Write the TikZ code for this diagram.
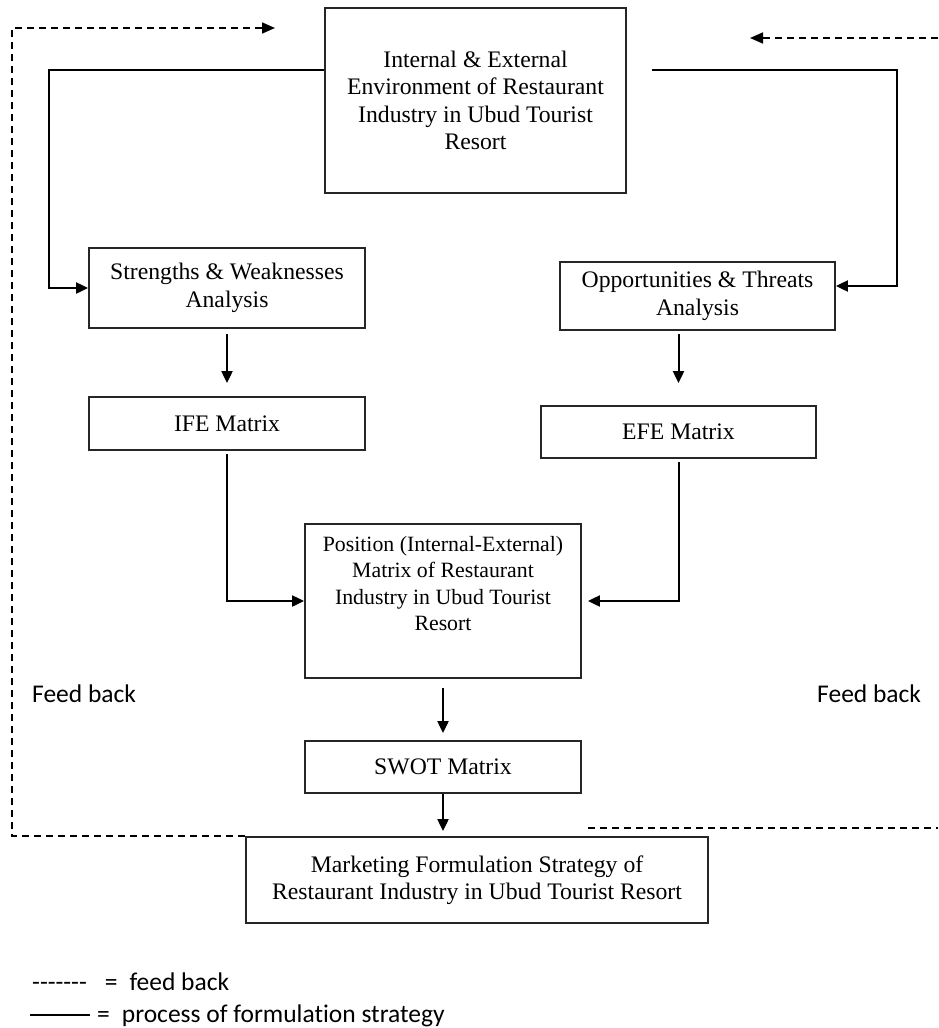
\documentclass[tikz,border=0pt]{standalone}
\usepackage{fontspec}
\setmainfont{Liberation Serif}
\newfontfamily\calfont[Ligatures=NoCommon]{Carlito}
\usetikzlibrary{arrows.meta}
\newcommand{\hy}{\mbox{-}}
\begin{document}
\begin{tikzpicture}[x=1pt,y=-1pt,
  box/.style={draw, line width=1.8pt, draw=black!85, align=center, inner sep=0pt,
    font=\fontsize{23.7}{27.5}\selectfont},
  arr/.style={line width=2pt, -{Triangle[length=12pt,width=11pt]}},
  fb/.style={line width=1.7pt, dash pattern=on 7pt off 5pt},
  fbarr/.style={fb, -{Triangle[length=13pt,width=11pt]}},
  cal/.style={font=\calfont\fontsize{25.5}{31}\selectfont, inner sep=0pt}]
\useasboundingbox (0,0) rectangle (938,1028);

% boxes
\node[box, minimum width=301pt, minimum height=185pt] (env) at (475.5,100.5)
  {Internal \& External\\Environment of Restaurant\\Industry in Ubud Tourist\\Resort};
\node[box, minimum width=276pt, minimum height=80pt] (sw) at (227,288)
  {Strengths \& Weaknesses\\Analysis};
\node[box, minimum width=275pt, minimum height=68pt] (ot) at (697.5,296)
  {Opportunities \& Threats\\Analysis};
\node[box, minimum width=276pt, minimum height=53pt] (ife) at (227,423.5) {IFE Matrix};
\node[box, minimum width=275pt, minimum height=52pt] (efe) at (678.5,432) {EFE Matrix};
\node[box, minimum width=276pt, minimum height=154pt] (pos) at (443,601) {};
\node[align=center, inner sep=0pt, anchor=north, font=\fontsize{21.8}{26.5}\selectfont]
  (posT) at (443,536)
  {Position (Internal-External)\\Matrix of Restaurant\\Industry in Ubud Tourist\\Resort};
\node[box, minimum width=276pt, minimum height=52pt] (swot) at (443,767) {SWOT Matrix};
\node[box, minimum width=462pt, minimum height=86pt] (mkt) at (477,880)
  {Marketing Formulation Strategy of\\Restaurant Industry in Ubud Tourist Resort};

% process connectors
\draw[arr] ([yshift=30.5pt]env.west) -| ([xshift=-39pt]sw.west) -- (sw.west);
\draw[arr] ([xshift=25pt,yshift=30.5pt]env.east) -| ([xshift=61pt,yshift=10pt]ot.east)
  -- ([yshift=10pt]ot.east);
\draw[arr, shorten <=5pt, shorten >=13pt] (sw.south) -- (ife.north);
\draw[arr, shorten <=3pt, shorten >=22pt] (ot.south -| efe.north) -- (efe.north);
\draw[arr] ([yshift=-3pt]ife.south) |- (pos.west);
\draw[arr] ([yshift=-3pt]efe.south) |- ([xshift=6pt]pos.east);
\draw[arr, shorten <=9pt, shorten >=7pt] (pos.south) -- (swot.north);
\draw[arr, shorten >=5pt] (swot.south) -- (swot.south |- mkt.north);

% feedback lines
\coordinate (fbc) at (12,28);
\coordinate (fbe) at (275,28);
\draw[fbarr] (mkt.north west) -| (fbc) -- (fbe);
\coordinate (rt1) at (938,38);
\coordinate (rt2) at (750,38);
\draw[fbarr] (rt1) -- (rt2);
\coordinate (rb1) at (588,828);
\coordinate (rb2) at (938,828);
\draw[fb] (rb1) -- (rb2);

\node[cal, anchor=west] (fbL) at (32,694) {Feed back};
\node[cal, anchor=west] (fbR) at (817,694) {Feed back};

% legend
\node[cal, anchor=base west] (lg1) at (32,990)
  {\hy\hy\hy\hy\hy\hy\hy\hspace{18pt}=\hspace{12pt}feed back};
\coordinate (lgA) at (30,1015);
\coordinate (lgB) at (90,1015);
\draw[line width=1.2pt] (lgA) -- (lgB);
\node[cal, anchor=base west] (lg2) at (97,1022)
  {=\hspace{12pt}process of formulation strategy};
\end{tikzpicture}
\end{document}
